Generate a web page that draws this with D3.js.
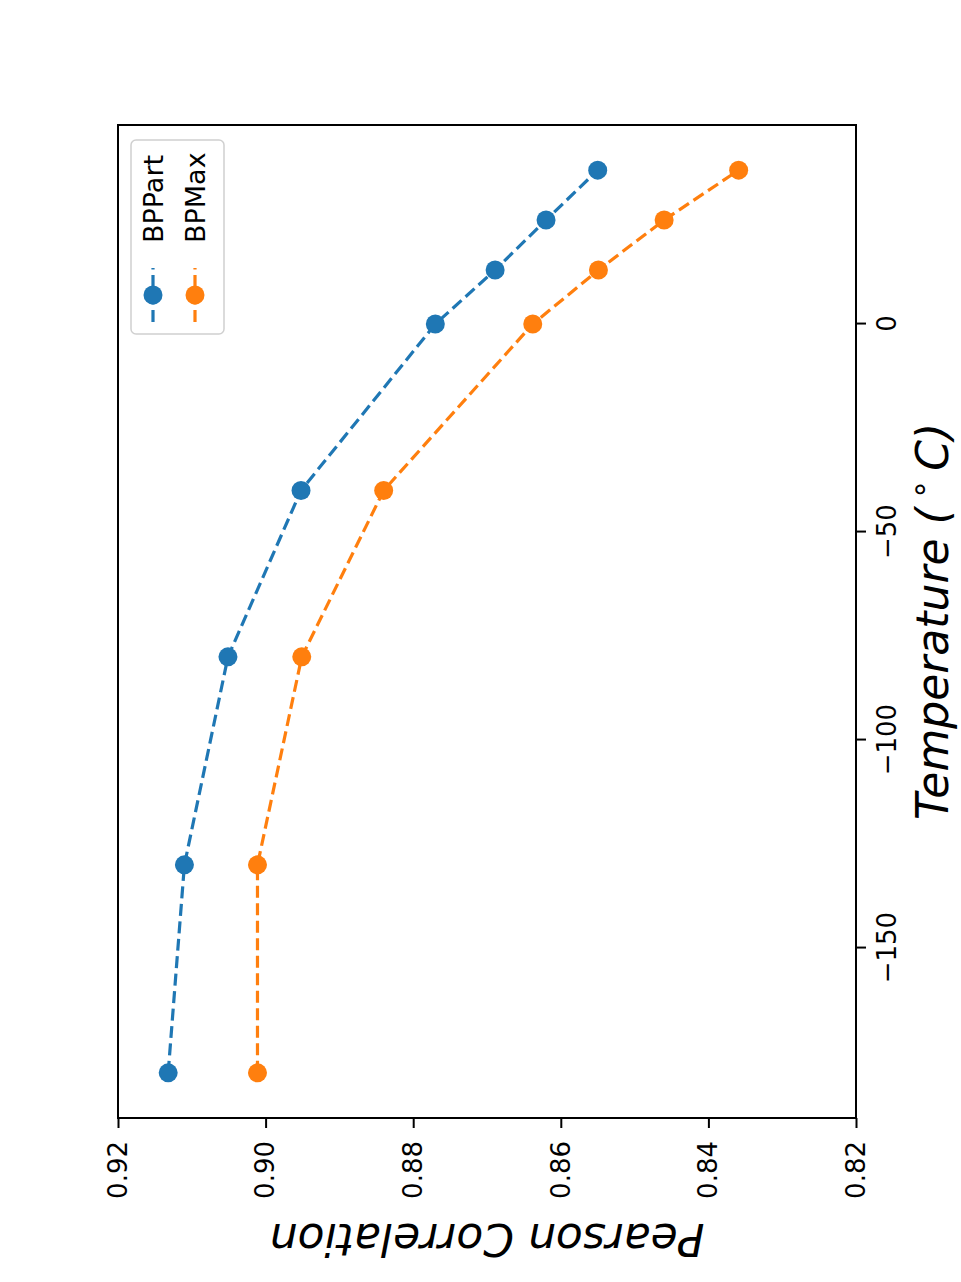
<!DOCTYPE html>
<html>
<head>
<meta charset="utf-8">
<script src="https://cdn.jsdelivr.net/npm/d3@7"></script>
<style>
  html, body { margin: 0; padding: 0; background: #fff; }
  #chart { width: 961px; height: 1282px; }
  text { font-family: "DejaVu Sans", sans-serif; }
</style>
</head>
<body>
<div id="chart"></div>
<script>
// temperature (°C) per measurement
const temperatures = [-180, -130, -80, -40, 0, 13, 25, 37];
// pearson correlation per series
const bpPart = [0.9132, 0.9110, 0.9051, 0.8952, 0.8770, 0.8689, 0.8620, 0.8550];
const bpMax = [0.9011, 0.9011, 0.8951, 0.8840, 0.8638, 0.8549, 0.8460, 0.8359];
const seriesNames = ['BPPart', 'BPMax'];
const seriesColors = ['#1f77b4', '#ff7f0e'];
// tick labels
const tempTicks = [-150, -100, -50, 0];
const corrTicks = [0.82, 0.84, 0.86, 0.88, 0.90, 0.92];

const width = 961, height = 1282;
// plot frame on the page (the whole figure is turned 90° counter-clockwise)
const frame = { left: 118, right: 856, top: 125, bottom: 1118 };
// inner size in the un-rotated frame
const W = frame.bottom - frame.top;   // along temperature
const H = frame.right - frame.left;   // along correlation

const svg = d3.select('#chart').append('svg')
  .attr('width', width)
  .attr('height', height)
  .attr('viewBox', `0 0 ${width} ${height}`);

svg.append('rect').attr('width', width).attr('height', height).attr('fill', '#fff');

// main group, rotated
const g = svg.append('g')
  .attr('transform', `translate(${frame.left},${frame.bottom}) rotate(-90)`);

// x: matplotlib style 5% margins
const tMin = d3.min(temperatures), tMax = d3.max(temperatures);
const pad = (tMax - tMin) * 0.05;
const xScale = d3.scaleLinear().domain([tMin - pad, tMax + pad]).range([0, W]);
const yScale = d3.scaleLinear().domain([0.82, 0.92]).range([H, 0]);

// axes
const xAxis = g.append('g')
  .attr('transform', `translate(0,${H})`)
  .call(d3.axisBottom(xScale).tickValues(tempTicks).tickSize(10).tickPadding(12)
    .tickFormat(d3.format('d')));
const yAxis = g.append('g')
  .call(d3.axisLeft(yScale).tickValues(corrTicks).tickSize(10).tickPadding(13)
    .tickFormat(d3.format('.2f')));

[xAxis, yAxis].forEach(ax => {
  ax.select('.domain').remove();
  ax.selectAll('line').attr('stroke', '#000').attr('stroke-width', 2);
  ax.selectAll('text')
    .attr('fill', '#000')
    .style('font-family', '"DejaVu Sans", sans-serif')
    .style('font-size', '26px');
});

// series lines + markers
const series = [bpPart, bpMax];
const line = d3.line()
  .x((d, i) => xScale(temperatures[i]))
  .y(d => yScale(d));

series.forEach((vals, s) => {
  g.append('path')
    .datum(vals)
    .attr('d', line)
    .attr('fill', 'none')
    .attr('stroke', seriesColors[s])
    .attr('stroke-width', 3.2)
    .attr('stroke-dasharray', '12,5.5');
  g.append('g').selectAll('circle')
    .data(vals)
    .join('circle')
    .attr('cx', (d, i) => xScale(temperatures[i]))
    .attr('cy', d => yScale(d))
    .attr('r', 9.5)
    .attr('fill', seriesColors[s]);
});

// frame
g.append('rect')
  .attr('width', W).attr('height', H)
  .attr('fill', 'none')
  .attr('stroke', '#000')
  .attr('stroke-width', 2);

// axis labels
const xLabel = g.append('text')
  .attr('x', W / 2)
  .attr('y', H + 92)
  .attr('text-anchor', 'middle')
  .style('font-size', '44px')
  .style('font-style', 'italic');
xLabel.append('tspan').text('Temperature (');
xLabel.append('tspan').attr('dx', 8).attr('dy', -18).style('font-size', '31px').style('font-style', 'normal').text('∘');
xLabel.append('tspan').attr('dx', 9).attr('dy', 18).text('C)');

g.append('text')
  .attr('transform', `translate(-106,${H / 2}) rotate(-90)`)
  .attr('text-anchor', 'middle')
  .style('font-size', '44px')
  .style('font-style', 'italic')
  .text('Pearson Correlation');

// legend (upper right in un-rotated frame)
const legend = g.append('g').attr('transform', `translate(${W - 209},13)`);
legend.append('rect')
  .attr('width', 194).attr('height', 93)
  .attr('rx', 5)
  .attr('fill', '#fff').attr('fill-opacity', 0.8)
  .attr('stroke', '#d0d0d0').attr('stroke-width', 1.5);

seriesNames.forEach((name, s) => {
  const cy = 22 + s * 42;
  const item = legend.append('g');
  item.append('line')
    .attr('x1', 12).attr('x2', 66)
    .attr('y1', cy).attr('y2', cy)
    .attr('stroke', seriesColors[s])
    .attr('stroke-width', 3.2)
    .attr('stroke-dasharray', '12,5.5');
  item.append('circle')
    .attr('cx', 39).attr('cy', cy).attr('r', 9.5)
    .attr('fill', seriesColors[s]);
  item.append('text')
    .attr('x', 91).attr('y', cy + 10)
    .style('font-size', '27px')
    .text(name);
});
</script>
</body>
</html>
